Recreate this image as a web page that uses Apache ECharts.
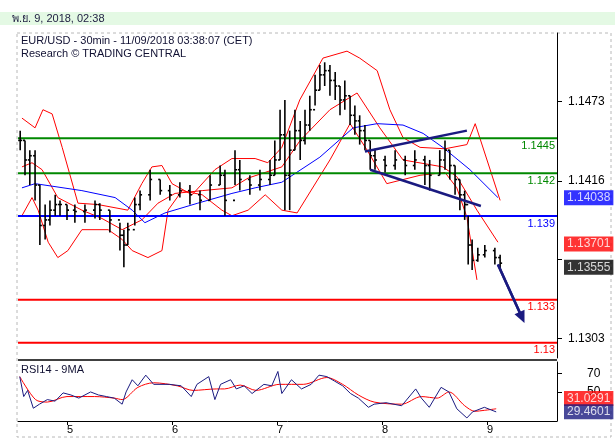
<!DOCTYPE html>
<html><head><meta charset="utf-8">
<script src="https://cdn.jsdelivr.net/npm/echarts@6/dist/echarts.min.js"></script>
<style>html,body{margin:0;padding:0;background:#fff}#c{width:615px;height:446px}</style>
</head><body><div id="c"></div>
<script>
// time in hours from 5 Nov 00:00
const dayTicks = [0, 24, 48, 72, 96];
const dayLabels = ['5', '6', '7', '8', '9'];
const priceTicks = [1.1303, 1.13595, 1.1416, 1.1473];
const priceLabels = [1.1303, 1.1416, 1.1473];
const rsiTicks = [50, 70];

const barTimes = [-10.7,-9.6,-8.5,-7.3,-6.2,-5.0,-3.9,-2.7,-1.6,0,1.8,4.1,6.4,7.5,9.8,12.1,13.0,13.9,15.5,16.7,19.0,21.3,23.5,25.8,28.1,30.4,32.7,35.0,36.1,38.4,39.5,41.8,44.1,46.4,47.5,48.7,49.8,50.9,52.1,53.3,54.4,55.5,56.7,57.8,58.9,60.1,61.3,62.4,63.5,64.7,65.8,66.9,68.1,69.3,70.4,72.7,75.0,77.3,79.5,81.8,82.9,85.2,86.4,87.5,88.7,89.8,90.9,91.7,92.6,93.9,95.5,97.8,99.0];
const closes = [1.1445,1.1431,1.1434,1.1413,1.1384,1.1388,1.1395,1.1399,1.1399,
1.1395,1.1394,1.1395,1.1399,1.1395,1.1388,1.1377,1.1370,1.1381,1.1399,
1.1406,1.1417,1.1409,1.1406,1.1409,1.1406,1.1402,1.1413,1.1420,1.1402,
1.1424,1.1417,1.1413,1.1417,1.1420,1.1431,1.1449,1.1420,1.1438,1.1452,
1.1445,1.1456,1.1467,1.1481,1.1492,1.1495,1.1488,1.1484,1.1474,1.1477,
1.1463,1.1459,1.1452,1.1445,1.1434,1.1431,1.1427,1.1431,1.1427,1.1431,
1.1427,1.1420,1.1431,1.1438,1.1427,1.1417,1.1406,1.1399,1.1370,1.1359,
1.1363,1.1366,1.1361,1.1357];
const highs = [1.1452,1.1445,1.1438,1.1438,1.1413,1.1399,1.1402,1.1406,1.1402,
1.1399,1.1399,1.1399,1.1402,1.1400,1.1395,1.1386,1.1381,1.1386,1.1404,
1.1409,1.1424,1.1417,1.1413,1.1415,1.1413,1.1409,1.1420,1.1427,1.1424,
1.1438,1.1431,1.1420,1.1424,1.1431,1.1445,1.1467,1.1474,1.1452,1.1467,
1.1459,1.1467,1.1477,1.1492,1.1499,1.1501,1.1499,1.1494,1.1484,1.1488,
1.1477,1.1470,1.1463,1.1456,1.1445,1.1439,1.1434,1.1438,1.1434,1.1438,
1.1434,1.1431,1.1438,1.1445,1.1438,1.1427,1.1417,1.1409,1.1391,1.1374,
1.1368,1.1370,1.1368,1.1363];
const lows = [1.1438,1.1420,1.1413,1.1402,1.1370,1.1374,1.1384,1.1391,1.1391,
1.1388,1.1386,1.1386,1.1389,1.1388,1.1379,1.1366,1.1354,1.1370,1.1384,
1.1395,1.1402,1.1406,1.1402,1.1404,1.1399,1.1395,1.1402,1.1413,1.1391,
1.1413,1.1409,1.1406,1.1409,1.1413,1.1420,1.1431,1.1395,1.1395,1.1438,
1.1431,1.1442,1.1452,1.1470,1.1481,1.1484,1.1477,1.1474,1.1463,1.1467,
1.1456,1.1449,1.1442,1.1438,1.1424,1.1424,1.1422,1.1424,1.1420,1.1424,
1.1413,1.1409,1.1420,1.1424,1.1417,1.1406,1.1395,1.1388,1.1356,1.1352,
1.1358,1.1361,1.1356,1.1352];

const upperT = [-10.3,-7.3,-5.5,-3.4,-1.1,2.5,7.1,13.9,17.1,19.4,21.7,24.0,28.6,33.8,37.7,43.0,45.9,49.1,53.2,58.5,64.0,66.9,70.9,73.8,76.8,80.7,86.4,91.4,93.3,99.0];
const upperV = [1.1461,1.1454,1.1467,1.1464,1.1440,1.1400,1.1399,1.1395,1.1414,1.1426,1.1427,1.1414,1.1406,1.1424,1.1432,1.1432,1.1429,1.1440,1.1474,1.1504,1.1509,1.1504,1.1495,1.1467,1.1447,1.1440,1.1439,1.1442,1.1457,1.1402];
const midT = [-10.3,-8.0,-5.7,-2.1,3.4,8.0,12.6,17.1,20.8,24.7,30.9,37.7,41.4,49.1,53.3,60.1,66.3,71.5,76.8,85.9,89.1,93.7,98.5];
const midV = [1.1426,1.1429,1.1424,1.1404,1.1395,1.1389,1.1381,1.1388,1.1400,1.1407,1.1409,1.1411,1.1418,1.1426,1.1445,1.1467,1.1479,1.1454,1.1431,1.1426,1.1419,1.1395,1.1372];
const lowerT = [-10.3,-8.0,-6.6,-4.3,-2.1,0.2,3.4,9.4,12.6,14.9,18.5,21.7,23.1,26.3,30.9,35.4,37.7,41.4,45.3,49.1,52.6,60.1,64.7,68.6,73.1,80.7,86.4,89.1,91.4,93.7];
const lowerV = [1.1391,1.1404,1.1395,1.1372,1.1361,1.1366,1.1381,1.1381,1.1374,1.1366,1.1361,1.1366,1.1395,1.1409,1.1406,1.1395,1.1391,1.1395,1.1406,1.1395,1.1393,1.1431,1.1457,1.1438,1.1414,1.1420,1.1422,1.1411,1.1390,1.1345];
const maT = [-10.3,-7.3,3.4,11.0,14.9,17.8,22.4,29.9,37.7,43.0,49.1,57.8,65.4,70.9,76.8,81.4,85.9,92.1,98.5];
const maV = [1.1411,1.1414,1.1409,1.1404,1.1395,1.1386,1.1393,1.1400,1.1407,1.1411,1.1415,1.1433,1.1454,1.1457,1.1456,1.1450,1.1440,1.1424,1.1404];

const levelValues = [1.14465, 1.14215, 1.13908, 1.13307, 1.1300];
const levelLabels = ['1.1445', '1.142', '1.139', '1.133', '1.13'];
const levelColors = ['#008800', '#008800', '#0000ff', '#ff0000', '#ff0000'];

const trendUpT = [68.1, 91.4], trendUpV = [1.1437, 1.1452];
const trendDnT = [69.3, 94.6], trendDnV = [1.1424, 1.1398];
const arrowT = [98.5, 104.0], arrowV = [1.1356, 1.1318];

const tagValues = [1.14038, 1.13701, 1.13555];
const tagColors = ['#0000ff', '#ff0000', '#000000'];

const rsiT = [-10.8,-9.9,-9.0,-7.7,-6.3,-4.5,-2.7,-0.9,0.9,2.7,5.4,7.2,9.0,10.8,12.6,13.5,14.9,16.2,18.0,19.8,23.4,26.1,28.4,29.7,32.4,33.8,35.1,37.4,38.7,40.5,42.3,45.0,46.8,48.2,49.1,51.3,53.6,55.8,57.6,59.4,61.2,63.0,64.8,66.6,68.9,70.2,72.9,76.5,79.7,81.0,82.8,85.5,87.3,89.1,91.4,92.7,95.4,98.1];
const rsiV = [66.7,45,51.7,32.3,36.7,41.7,40,49,46.7,43.3,50,46.7,45,43.3,36.7,50,63.3,56.7,68.3,58.3,58.3,56.7,45,58.3,66.7,41.7,58.3,63.3,53.3,56.7,48.3,58.3,56.7,72.3,48.3,63.3,53.3,58.3,68.3,66.7,61.7,56.7,48.3,43.3,33.3,36.7,38.3,35,53.3,43.3,33.3,55,50,31.7,21.7,28.3,33.3,28.3];
const rsiMaT = [-10.8,-7.2,-4.5,0,6.3,10.8,12.6,16.2,19.8,25.2,28.8,34.2,36.0,39.6,43.2,48.6,54.0,59.4,63.0,66.6,70.2,76.5,81.0,84.6,87.3,90.9,93.2,95.4,98.1];
const rsiMaV = [66.7,41.7,39,45,45,43.3,41.7,55,60,56.7,51.7,53.3,53.3,57.5,51.7,58.3,58.3,65.7,58.3,46.7,39,36.7,45,43.3,50,35,29,30,31.7];
const rsiTagValues = [31.0291, 29.4601];
const rsiTagColors = ['#ff0000', '#1a1a80'];

const X_MIN = -11.2, X_MAX = 112;
const zip = (a, b) => a.map((t, i) => [t, b[i]]);
const FONT = 'Liberation Sans';
const bars = barTimes.map((t, i) => [t, i ? closes[i - 1] : closes[0], highs[i], lows[i], closes[i]]);

const levelSeries = levelValues.map((v, i) => ({
  type: 'line', data: [[X_MIN, v], [X_MAX, v]], showSymbol: false, z: 3,
  lineStyle: { color: levelColors[i], width: 2 },
  endLabel: { show: true, formatter: levelLabels[i], color: levelColors[i], fontSize: 11,
    align: 'right', verticalAlign: 'top', distance: 0, offset: [-2, 2] }
}));
function tagSeries(values, colors, yIdx, offs) {
  return {
    type: 'scatter', xAxisIndex: yIdx, yAxisIndex: yIdx, clip: false, symbolSize: 0, z: 10,
    data: values.map((v, i) => ({ value: [X_MAX, v],
      label: { show: true, position: 'right', distance: 7, formatter: String(v), color: '#fff',
        backgroundColor: colors[i], fontSize: 12, padding: [2, 3, 1, 3], offset: [0, offs[i]] } }))
  };
}

const chart = echarts.init(document.getElementById('c'), null, { renderer: 'canvas' });
const xCommon = { type: 'value', min: X_MIN, max: X_MAX, splitLine: { show: false } };
chart.setOption({
  animation: false,
  textStyle: { fontFamily: FONT },
  graphic: [
    { type: 'rect', shape: { x: 0, y: 12, width: 615, height: 13 }, style: { fill: '#e4f9e4' }, z: 0 },
    { type: 'text', x: 12, y: 13, style: { text: 'พ.ย. 9, 2018, 02:38', fill: '#222244', font: '11px "Liberation Sans"' } },
    { type: 'rect', shape: { x: 17, y: 33, width: 594, height: 404 }, style: { fill: 'none', stroke: '#b8b8b8', lineDash: [3, 3] } },
    { type: 'text', x: 21, y: 35, style: { text: 'EUR/USD - 30min - 11/09/2018 03:38:07 (CET)', fill: '#111133', font: '11px "Liberation Sans"' } },
    { type: 'text', x: 21, y: 48, style: { text: 'Research © TRADING CENTRAL', fill: '#111133', font: '11px "Liberation Sans"' } },
    { type: 'text', x: 21, y: 364, style: { text: 'RSI14 - 9MA', fill: '#111133', font: '11px "Liberation Sans"' } },
    { type: 'line', shape: { x1: 18, y1: 360, x2: 557, y2: 360 }, style: { stroke: '#000', lineWidth: 1.5 } }
  ],
  grid: [
    { left: 18, right: 58, top: 33, height: 325 },
    { left: 18, right: 58, top: 362, height: 59 }
  ],
  xAxis: [
    Object.assign({ gridIndex: 0, axisLine: { show: false }, axisTick: { show: false }, axisLabel: { show: false } }, xCommon),
    Object.assign({ gridIndex: 1, axisLine: { show: true, onZero: false, lineStyle: { color: '#000' } },
      axisTick: { show: true, customValues: dayTicks, length: 4, lineStyle: { color: '#000' } },
      axisLabel: { show: true, customValues: dayTicks, color: '#000', fontSize: 11, margin: 3, align: 'left',
        formatter: v => dayLabels[dayTicks.indexOf(v)] } }, xCommon)
  ],
  yAxis: [
    { gridIndex: 0, type: 'value', position: 'right', min: 1.1289, max: 1.1522, splitLine: { show: false },
      axisLine: { show: true, onZero: false, lineStyle: { color: '#000' } },
      axisTick: { show: true, customValues: priceTicks, length: 5, lineStyle: { color: '#000' } },
      axisLabel: { customValues: priceLabels, color: '#000', fontSize: 12, margin: 11, formatter: v => v.toFixed(4) } },
    { gridIndex: 1, type: 'value', position: 'right', min: 18.4, max: 82.6, splitLine: { show: false },
      axisLine: { show: true, onZero: false, lineStyle: { color: '#000' } },
      axisTick: { show: true, customValues: rsiTicks, length: 5, lineStyle: { color: '#000' } },
      axisLabel: { customValues: rsiTicks, color: '#000', fontSize: 12, margin: 30 } }
  ],
  series: [
    { type: 'line', data: zip(upperT, upperV), showSymbol: false, lineStyle: { color: '#ff0000', width: 1 }, z: 2 },
    { type: 'line', data: zip(midT, midV), showSymbol: false, lineStyle: { color: '#ff0000', width: 1 }, z: 2 },
    { type: 'line', data: zip(lowerT, lowerV), showSymbol: false, lineStyle: { color: '#ff0000', width: 1 }, z: 2 },
    { type: 'line', data: zip(maT, maV), showSymbol: false, lineStyle: { color: '#0000ff', width: 1 }, z: 2 },
    ...levelSeries,
    { type: 'custom', z: 5, data: bars, encode: { x: 0, y: [1, 2, 3, 4] },
      renderItem: (params, api) => {
        const t = api.value(0);
        const o = api.coord([t, api.value(1)]), h = api.coord([t, api.value(2)]),
              l = api.coord([t, api.value(3)]), c = api.coord([t, api.value(4)]);
        const s = { stroke: '#000', lineWidth: 1.6 };
        return { type: 'group', children: [
          { type: 'line', shape: { x1: h[0], y1: h[1], x2: l[0], y2: l[1] }, style: s },
          { type: 'line', shape: { x1: o[0] - 2, y1: o[1], x2: o[0], y2: o[1] }, style: s },
          { type: 'line', shape: { x1: c[0], y1: c[1], x2: c[0] + 2, y2: c[1] }, style: s }
        ] };
      } },
    { type: 'line', data: zip(trendUpT, trendUpV), showSymbol: false, lineStyle: { color: '#1a1a80', width: 2.5 }, z: 6 },
    { type: 'line', data: zip(trendDnT, trendDnV), showSymbol: false, lineStyle: { color: '#1a1a80', width: 2.5 }, z: 6 },
    { type: 'line', data: zip(arrowT, arrowV), showSymbol: false, lineStyle: { color: '#1a1a80', width: 2.5 }, z: 6,
      markLine: { silent: true, symbol: ['none', 'triangle'], symbolSize: [11, 12],
        lineStyle: { color: '#1a1a80', width: 2.5, type: 'solid' }, label: { show: false },
        data: [[{ coord: [arrowT[0], arrowV[0]] }, { coord: [arrowT[1], arrowV[1]] }]] } },
    tagSeries(tagValues, tagColors, 0, [0, -1, 2]),
    { type: 'line', xAxisIndex: 1, yAxisIndex: 1, data: zip(rsiMaT, rsiMaV), showSymbol: false, smooth: 0.3,
      lineStyle: { color: '#ff0000', width: 1 } },
    { type: 'line', xAxisIndex: 1, yAxisIndex: 1, data: zip(rsiT, rsiV), showSymbol: false,
      lineStyle: { color: '#1a1a80', width: 1 } },
    tagSeries(rsiTagValues, rsiTagColors, 1, [-11, 1])
  ]
});
</script></body></html>
